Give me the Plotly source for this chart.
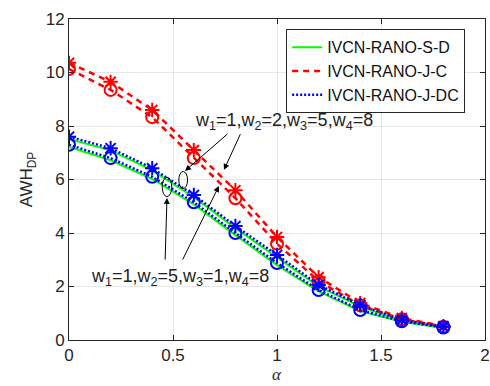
import plotly.graph_objects as go

alpha = [0, 0.2, 0.4, 0.6, 0.8, 1.0, 1.2, 1.4, 1.6, 1.8]

# weights w=(1,2,5,8) -> star markers ; w=(1,5,1,8) -> circle markers
jc_star = [10.36, 9.65, 8.6, 7.1, 5.6, 3.85, 2.35, 1.38, 0.82, 0.52]
jc_circ = [10.13, 9.35, 8.33, 6.8, 5.3, 3.6, 2.2, 1.3, 0.78, 0.5]
dc_star = [7.6, 7.17, 6.42, 5.42, 4.26, 3.18, 2.06, 1.3, 0.75, 0.49]
dc_circ = [7.3, 6.8, 6.1, 5.15, 4.0, 2.88, 1.87, 1.12, 0.7, 0.47]
sd_star = [7.52, 7.09, 6.34, 5.34, 4.18, 3.1, 2.0, 1.25, 0.72, 0.47]
sd_circ = [7.22, 6.72, 6.02, 5.07, 3.92, 2.8, 1.82, 1.08, 0.68, 0.45]

series = ["IVCN-RANO-S-D", "IVCN-RANO-J-C", "IVCN-RANO-J-DC"]
label_top = "w<sub>1</sub>=1,w<sub>2</sub>=2,w<sub>3</sub>=5,w<sub>4</sub>=8"
label_bot = "w<sub>1</sub>=1,w<sub>2</sub>=5,w<sub>3</sub>=1,w<sub>4</sub>=8"

GREEN = "#00ff00"
RED = "#ff0000"
BLUE = "#0000ff"

fig = go.Figure()

# green solid lines
for i, ys in enumerate([sd_star, sd_circ]):
    fig.add_trace(go.Scatter(x=alpha, y=ys, mode="lines",
                             line=dict(color=GREEN, width=2),
                             name=series[0], showlegend=(i == 0)))
# red dashed
for i, (ys, sym) in enumerate([(jc_star, "asterisk-open"), (jc_circ, "circle-open")]):
    fig.add_trace(go.Scatter(x=alpha, y=ys, mode="lines+markers",
                             line=dict(color=RED, width=2.5, dash="6px,5px"),
                             marker=dict(symbol=sym, size=12, color=RED,
                                         line=dict(color=RED, width=2)),
                             name=series[1], showlegend=False))
# blue dotted
for i, (ys, sym) in enumerate([(dc_star, "asterisk-open"), (dc_circ, "circle-open")]):
    fig.add_trace(go.Scatter(x=alpha, y=ys, mode="lines+markers",
                             line=dict(color=BLUE, width=2.5, dash="2px,2px"),
                             marker=dict(symbol=sym, size=12, color=BLUE,
                                         line=dict(color=BLUE, width=2)),
                             name=series[2], showlegend=False))
# legend-only entries for red and blue (no markers)
fig.add_trace(go.Scatter(x=[None], y=[None], mode="lines",
                         line=dict(color=RED, width=2.5, dash="6px,5px"),
                         name=series[1]))
fig.add_trace(go.Scatter(x=[None], y=[None], mode="lines",
                         line=dict(color=BLUE, width=2.5, dash="2px,2px"),
                         name=series[2]))

# ellipses
fig.add_shape(type="circle", xref="x", yref="y",
              x0=0.528, x1=0.570, y0=5.66, y1=6.30,
              line=dict(color="black", width=1))
fig.add_shape(type="circle", xref="x", yref="y",
              x0=0.448, x1=0.494, y0=5.36, y1=6.08,
              line=dict(color="black", width=1))

font_ann = dict(family="Liberation Sans, Arial", size=18, color="#222222")
fig.add_annotation(x=1.034, y=8.15, xref="x", yref="y", text=label_top,
                   showarrow=False, font=font_ann)
fig.add_annotation(x=0.534, y=2.32, xref="x", yref="y", text=label_bot,
                   showarrow=False, font=font_ann)

arrows = [
    (0.558, 6.32, 0.769, 7.75),
    (0.745, 6.36, 0.827, 7.75),
    (0.471, 5.31, 0.462, 2.95),
    (0.721, 5.76, 0.543, 2.95),
]
for hx, hy, tx, ty in arrows:
    fig.add_annotation(x=hx, y=hy, ax=tx, ay=ty, xref="x", yref="y",
                       axref="x", ayref="y", text="", showarrow=True,
                       arrowhead=2, arrowsize=1.2, arrowwidth=1,
                       arrowcolor="black")

# x-axis title (alpha), placed low as in the reference
fig.add_annotation(x=0.5, y=-0.1445, xref="paper", yref="paper", yanchor="bottom",
                   text="<i>α</i>", showarrow=False,
                   font=dict(family="Liberation Serif", size=17, color="#262626"))

tickfont = dict(family="Liberation Sans, Arial", size=17, color="#262626")
fig.update_xaxes(range=[0, 2], tickvals=[0, 0.5, 1, 1.5, 2],
                 ticktext=["0", "0.5", "1", "1.5", "2"],
                 showgrid=True, gridcolor="#e6e6e6", gridwidth=1,
                 showline=True, linecolor="#262626", linewidth=1, mirror="ticks",
                 ticks="inside", ticklen=5, tickcolor="#262626",
                 zeroline=False, tickfont=tickfont, automargin=False)
fig.update_yaxes(range=[0, 12], tickvals=[0, 2, 4, 6, 8, 10, 12],
                 showgrid=True, gridcolor="#e6e6e6", gridwidth=1,
                 showline=True, linecolor="#262626", linewidth=1, mirror="ticks",
                 ticks="inside", ticklen=5, tickcolor="#262626",
                 zeroline=False, tickfont=tickfont, automargin=False,
                 title=dict(text="AWH<sub>DP</sub>", font=dict(family="Liberation Sans, Arial", size=17, color="#262626"),
                            standoff=8))

fig.update_layout(
    width=490, height=386,
    margin=dict(l=69, r=5, t=19, b=46),
    paper_bgcolor="white", plot_bgcolor="white",
    legend=dict(x=0.522, y=0.968, xanchor="left", yanchor="top",
                bgcolor="white", bordercolor="#262626", borderwidth=1,
                font=dict(family="Liberation Sans, Arial", size=16, color="#111111"),
                tracegroupgap=0, itemwidth=30),
    showlegend=True,
)

fig.write_html("out.html")
